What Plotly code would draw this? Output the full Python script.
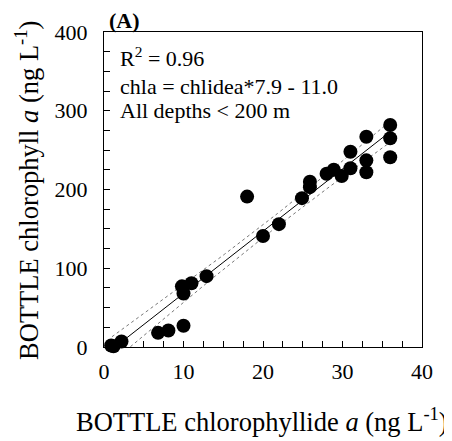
import numpy as np
import plotly.graph_objects as go

# Data
chlidea = [0.9, 1.2, 2.2, 6.8, 8.1, 10.0, 10.0, 9.8, 11.0, 12.9, 18.0, 20.0, 22.0,
           24.9, 25.9, 25.9, 28.0, 28.9, 29.9, 31.0, 31.0, 33.0, 33.0, 33.0,
           36.0, 36.0, 36.0]
chla = [2, 1, 7, 18, 21, 27, 68, 77, 81, 90, 191, 141, 156,
        189, 210, 203, 220, 225, 217, 227, 248, 267, 237, 222,
        282, 265, 241]
slope = 7.9
intercept = -11.0
x_ticks = [0, 10, 20, 30, 40]
y_ticks = [0, 100, 200, 300, 400]

x = np.array(chlidea)
y = np.array(chla)
n = len(x)
xs = np.linspace(1.0, 36.0, 80)
fit = slope * xs + intercept
resid = y - (slope * x + intercept)
s = np.sqrt(np.sum(resid ** 2) / (n - 2))
sxx = np.sum((x - x.mean()) ** 2)
se = s * np.sqrt(1.0 / n + (xs - x.mean()) ** 2 / sxx)
t = 2.06
upper = fit + t * se
lower = fit - t * se

serif = "Liberation Serif, Times New Roman, serif"
fig = go.Figure()
for band in (upper, lower):
    fig.add_trace(go.Scatter(x=xs, y=band, mode="lines",
                             line=dict(color="#777777", width=1, dash="dot"),
                             hoverinfo="skip", showlegend=False))
fig.add_trace(go.Scatter(x=xs, y=fit, mode="lines",
                         line=dict(color="black", width=1),
                         showlegend=False))
fig.add_trace(go.Scatter(x=chlidea, y=chla, mode="markers",
                         marker=dict(color="black", size=14),
                         cliponaxis=False, showlegend=False))

axis_common = dict(showgrid=False, zeroline=False, showline=True, linecolor="black",
                   linewidth=1, mirror=True, ticks="inside", ticklen=6,
                   tickcolor="black", tickfont=dict(family=serif, size=22, color="black"))
fig.update_xaxes(range=[0, 40], tickvals=x_ticks, ticklabelstandoff=5,
                 minor=dict(dtick=2.5, ticks="inside", ticklen=6, tickcolor="black"),
                 **axis_common)
fig.update_yaxes(range=[0, 400], tickvals=y_ticks, ticklabelstandoff=11,
                 minor=dict(dtick=25, ticks="inside", ticklen=6, tickcolor="black"),
                 **axis_common)

# plot-area edges in reference pixels
L, R, T, B = 104.0, 421.7, 31.7, 347.3
OFF = 8  # page body margin
W, H = 452 - OFF, 441 - OFF


def px(xp):
    return (xp - L) / (R - L)


def py(yp):
    return 1 - (yp - T) / (B - T)


ann_font = dict(family=serif, size=22, color="black")
annotations = [
    dict(text="<b>(A)</b>", x=107, y=20),
    dict(text="R<sup>2</sup> = 0.96", x=118, y=57),
    dict(text="chla = chlidea*7.9 - 11.0", x=118, y=86),
    dict(text="All depths &lt; 200 m", x=118, y=110),
]
for a in annotations:
    fig.add_annotation(text=a["text"], xref="paper", yref="paper",
                       x=px(a["x"]), y=py(a["y"]),
                       xanchor="left", yanchor="middle", showarrow=False,
                       font=ann_font)

fig.add_annotation(text="BOTTLE chlorophyllide <i>a</i> (ng L<sup>-1</sup>)",
                   xref="paper", yref="paper",
                   x=px(262), y=py(420),
                   xanchor="center", yanchor="middle", showarrow=False,
                   font=dict(family=serif, size=26.5, color="black"))
fig.add_annotation(text="BOTTLE chlorophyll <i>a</i> (ng L<sup>-1</sup>)",
                   xref="paper", yref="paper", textangle=-90,
                   x=px(27), y=py(190),
                   xanchor="center", yanchor="middle", showarrow=False,
                   font=dict(family=serif, size=26.5, color="black"))

fig.update_layout(width=W, height=H, autosize=False,
                  margin=dict(l=L - OFF, r=W - (R - OFF), t=T - OFF, b=H - (B - OFF)),
                  paper_bgcolor="white", plot_bgcolor="white",
                  font=dict(family=serif, color="black"))
fig.write_html("out.html")
